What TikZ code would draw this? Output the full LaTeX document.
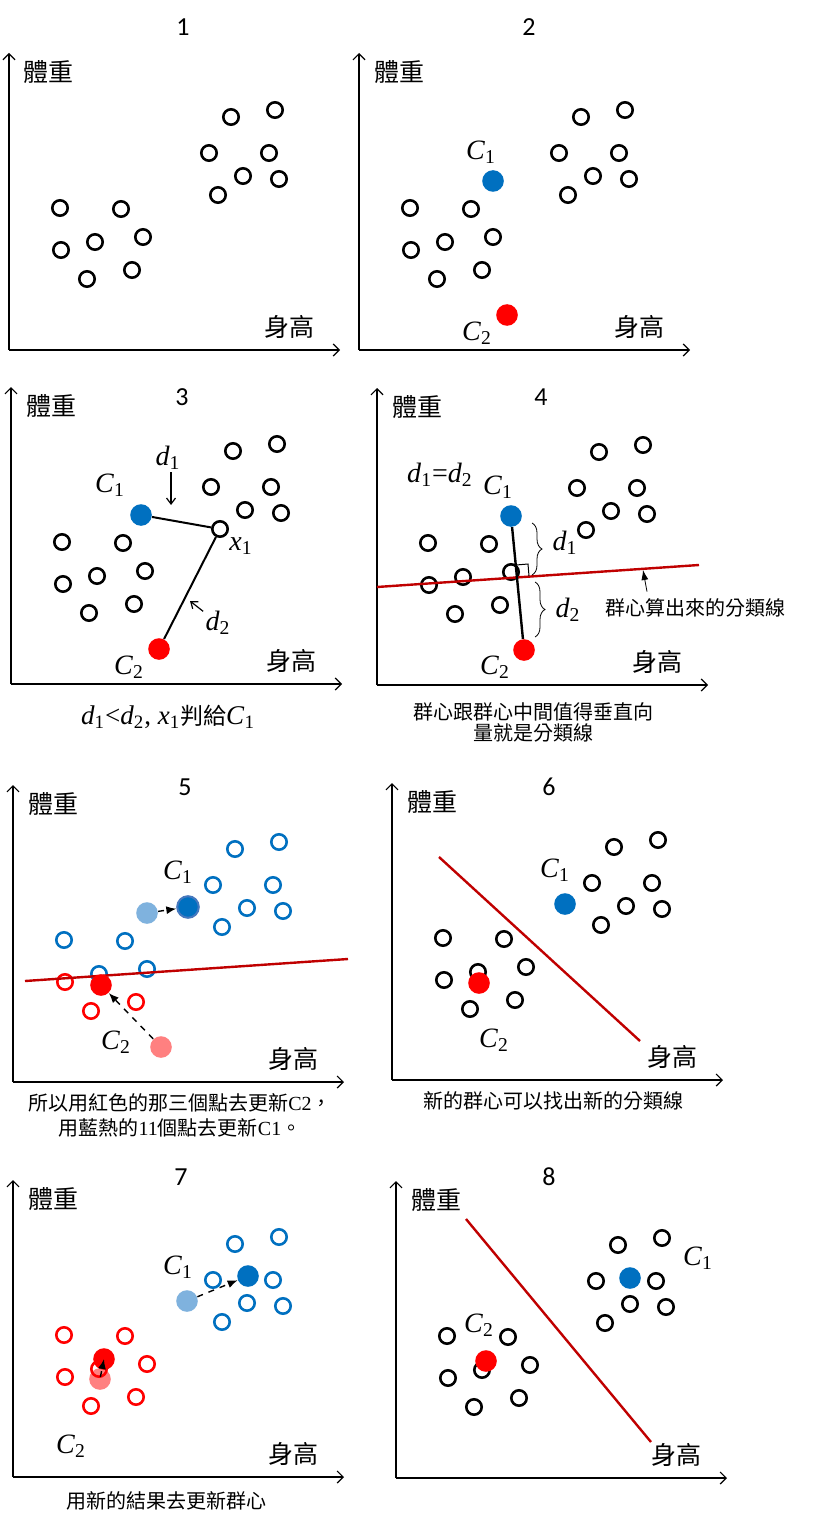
\documentclass[tikz,border=0pt]{standalone}
\usepackage{fontspec}
\setmainfont{Liberation Serif}
\newfontfamily\cjk{Noto Sans CJK TC}
\newfontfamily\numfont{Carlito}
\usetikzlibrary{arrows.meta,decorations.pathreplacing}
\usepackage{xcolor}
\definecolor{ptBlue}{RGB}{0,112,192}
\definecolor{ptRed}{RGB}{255,0,0}
\definecolor{lineRed}{RGB}{192,0,0}
\definecolor{oldBlue}{RGB}{127,178,222}
\definecolor{oldRed}{RGB}{255,128,128}
\definecolor{ringBlue}{RGB}{70,120,190}
\newcommand{\ivar}[2]{\textit{#1}\textsubscript{#2}}

\tikzset{
  pt/.style={circle, draw, line width=1.3pt, minimum size=7.7pt, inner sep=0pt},
  cen/.style={circle, fill, inner sep=0pt, minimum size=10.8pt},
  axis/.style={line width=0.6pt, -{Straight Barb[length=3pt,width=6pt]}},
  axlab/.style={font=\cjk\fontsize{12.5}{14}\selectfont},
  ttl/.style={font=\numfont\fontsize{13}{15}\selectfont},
  clab/.style={font=\fontsize{14}{16}\selectfont, inner sep=1pt},
  captext/.style={font=\cjk\fontsize{10}{10.5}\selectfont, align=center},
  sep/.style={lineRed, line width=1.2pt},
  pointer/.style={line width=0.6pt, -{Straight Barb[length=3pt,width=4.5pt]}},
  move/.style={dashed, line width=0.7pt, -{Latex[length=5pt,width=4pt]}}
}

\begin{document}
\begin{tikzpicture}[x=0.5pt, y=-0.5pt]
  \fill[white] (0,0) rectangle (828,1524);
  \useasboundingbox (0,0) rectangle (828,1524);

  % old centres, under the points
  \node[cen, oldBlue] (oldblue5) at (147,913) {};
  \node[cen, oldRed] (oldred5) at (161,1047) {};
  \node[cen, oldBlue] (oldblue7) at (187,1301) {};
  \node[cen, oldRed] (oldred7) at (100,1379) {};

  % panels: axes, titles, points
  \foreach \n/\dx/\dy/\tx/\ty/\cR/\cL/\cM in {
      1/0/0/183/27/black/black/black,
      2/350/0/529/27/black/black/black,
      3/2/334/182/397/black/black/black,
      4/368/335/541/397/black/black/black,
      5/4/732/185/787/ptBlue/ptBlue/ptRed,
      6/383/730/549/787/black/black/black,
      7/4/1127/181/1177/ptBlue/ptRed/ptRed,
      8/387/1128/549/1177/black/black/black}{
    \node[ttl] (t\n) at (\tx,\ty) {\n};
    \begin{scope}[shift={(\dx,\dy)}]
      % axis
      \coordinate (o\n) at (9,350);
      \draw[axis] (o\n) -- (9,53);
      \draw[axis] (o\n) -- (340,350);
      \node[axlab] (w\n) at (49,72) {體重};
      \node[axlab] (h\n) at (289,327) {身高};
      % points
      \foreach \x/\y [count=\i] in {231/117,275/110,209/153,269/153,243/176,279/179,218/195}
        \node[pt, draw=\cR] (p\n-r\i) at (\x,\y) {};
      \foreach \x/\y [count=\i] in {60/208,121/209,95/242,143/237}
        \node[pt, draw=\cL] (p\n-l\i) at (\x,\y) {};
      \foreach \x/\y [count=\i from 5] in {61/250,87/279,132/270}
        \node[pt, draw=\cM] (p\n-l\i) at (\x,\y) {};
    \end{scope}
  }

  % panel 2
  \node[cen, ptBlue] (blue2) at (493,181) {};
  \node[cen, ptRed] (red2) at (507,315) {};
  \node[clab] (lc1-2) at (481,152) {\ivar{C}{1}};
  \node[clab] (lc2-2) at (477,333) {\ivar{C}{2}};

  % panel 3
  \node[cen, ptBlue] (blue3) at (141,515) {};
  \node[cen, ptRed] (red3) at (159,649) {};
  \draw[line width=1pt] (blue3) -- (p3-r7) (red3) -- (p3-r7);
  \node[clab] (lc1-3) at (110,485) {\ivar{C}{1}};
  \node[clab] (lc2-3) at (129,667) {\ivar{C}{2}};
  \node[clab] (lx1) at (241,546) {\ivar{x}{1}};
  \node[clab] (ld1) at (168,458) {\ivar{d}{1}};
  \node[clab] (ld2) at (218,623) {\ivar{d}{2}};
  \coordinate (d1tip) at (171,505);
  \coordinate (d2tip) at (190,601);
  \draw[pointer] (d1tip |- ld1.south) -- (d1tip);
  \draw[pointer] (ld2) -- (d2tip);
  \node[clab, font=\fontsize{13.5}{16}\selectfont] (cap3) at (168,717)
    {\ivar{d}{1}<\ivar{d}{2}, \ivar{x}{1}{\cjk\fontsize{11.5}{14}\selectfont 判給}\ivar{C}{1}};

  % panel 4
  \coordinate (s4a) at (377,587);
  \coordinate (s4b) at (699,565);
  \draw[sep] (s4a) -- (s4b);
  \node[cen, ptBlue] (blue4) at (511,516) {};
  \node[cen, ptRed] (red4) at (524,650) {};
  \draw[line width=1.2pt] (blue4) -- (red4);
  \draw[line width=0.5pt] (516,565) -- (528,564) -- (529,576);
  \draw[decorate, decoration={brace, amplitude=5pt}] (532,523) -- (532,575);
  \draw[decorate, decoration={brace, amplitude=5pt}] (535,582) -- (535,637);
  \node[clab] (ld1-4) at (565,543) {\ivar{d}{1}};
  \node[clab] (ld2-4) at (568,610) {\ivar{d}{2}};
  \node[clab] (leq) at (440,475) {\ivar{d}{1}=\ivar{d}{2}};
  \node[clab] (lc1-4) at (498,487) {\ivar{C}{1}};
  \node[clab] (lc2-4) at (495,667) {\ivar{C}{2}};
  \node[captext] (ann4) at (695,608) {群心算出來的分類線};
  \coordinate (ann4tip) at (643,570);
  \draw[-{Latex[length=5pt,width=3.5pt]}] ([xshift=-24pt]ann4.north) -- (ann4tip);
  \node[captext] (cap4) at (533,722) {群心跟群心中間值得垂直向\\量就是分類線};

  % panel 5
  \coordinate (s5a) at (25,981);
  \coordinate (s5b) at (348,959);
  \draw[sep] (s5a) -- (s5b);
  \node[cen, ptBlue, draw=ringBlue, line width=1pt] (blue5) at (188,907) {};
  \node[cen, ptRed] (red5) at (101,985) {};
  \draw[move] (oldblue5) -- (blue5);
  \draw[move] (oldred5) -- (red5);
  \node[clab] (lc1-5) at (178,872) {\ivar{C}{1}};
  \node[clab] (lc2-5) at (116,1042) {\ivar{C}{2}};
  \node[captext, font=\cjk\fontsize{10}{12.5}\selectfont] (cap5) at (180,1115)
    {所以用紅色的那三個點去更新{\rmfamily C2}，\\用藍熱的{\rmfamily 11}個點去更新{\rmfamily C1}。};

  % panel 6
  \coordinate (s6a) at (439,857);
  \coordinate (s6b) at (640,1041);
  \draw[sep] (s6a) -- (s6b);
  \node[cen, ptBlue] (blue6) at (565,904) {};
  \node[cen, ptRed] (red6) at (479,983) {};
  \node[clab] (lc1-6) at (555,870) {\ivar{C}{1}};
  \node[clab] (lc2-6) at (494,1040) {\ivar{C}{2}};
  \node[captext] (cap6) at (553,1101) {新的群心可以找出新的分類線};

  % panel 7
  \node[cen, ptBlue] (blue7) at (248,1276) {};
  \node[cen, ptRed] (red7) at (104,1359) {};
  \draw[move] (oldblue7) -- (blue7);
  \draw[move, shorten <=1pt] (oldred7.center) -- (red7.center);
  \node[clab] (lc1-7) at (178,1267) {\ivar{C}{1}};
  \node[clab] (lc2-7) at (71,1446) {\ivar{C}{2}};
  \node[captext] (cap7) at (166,1501) {用新的結果去更新群心};

  % panel 8
  \coordinate (s8a) at (466,1219);
  \coordinate (s8b) at (651,1442);
  \draw[sep] (s8a) -- (s8b);
  \node[cen, ptBlue] (blue8) at (630,1278) {};
  \node[cen, ptRed] (red8) at (486,1361) {};
  \node[clab] (lc1-8) at (698,1258) {\ivar{C}{1}};
  \node[clab] (lc2-8) at (479,1325) {\ivar{C}{2}};
\end{tikzpicture}
\end{document}
